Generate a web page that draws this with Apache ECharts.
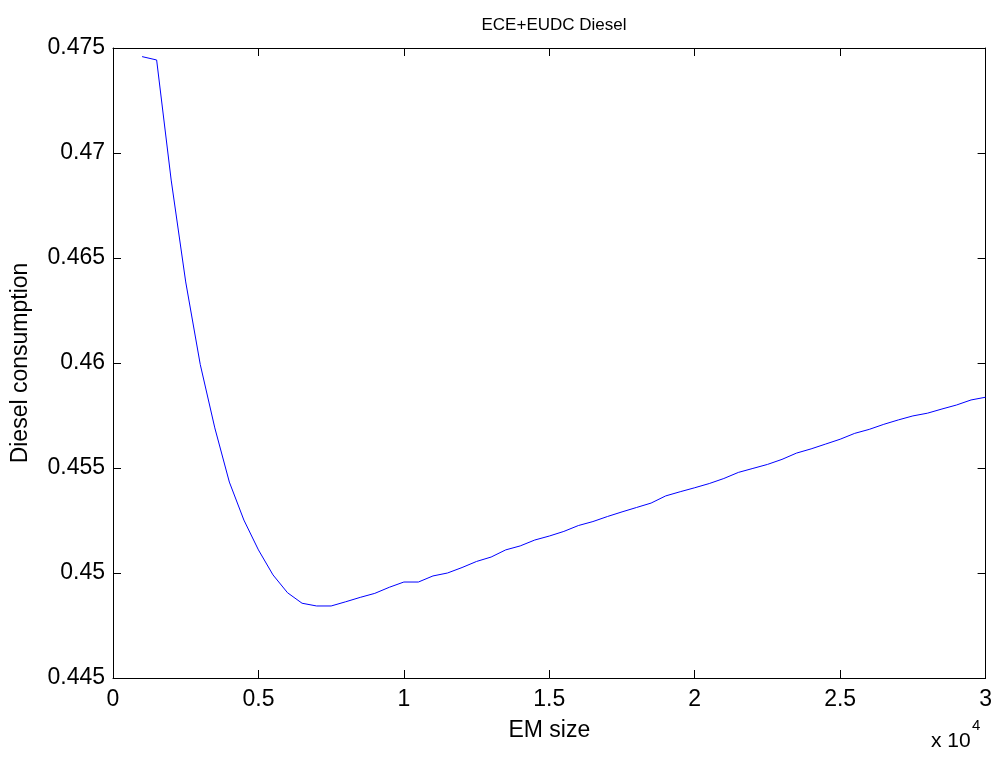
<!DOCTYPE html>
<html>
<head>
<meta charset="utf-8">
<script src="https://cdn.jsdelivr.net/npm/echarts@6/dist/echarts.min.js"></script>
<style>
  html, body { margin: 0; padding: 0; background: #fff; }
  #chart { width: 995px; height: 758px; }
</style>
</head>
<body>
<div id="chart"></div>
<script>
// EM size sweep (raw units; axis shows them scaled by 10^4)
const emSize = [
  1000, 1500, 2000, 2500, 3000, 3500, 4000, 4500, 5000, 5500,
  6000, 6500, 7000, 7500, 8000, 8500, 9000, 9500, 10000, 10500,
  11000, 11500, 12000, 12500, 13000, 13500, 14000, 14500, 15000, 15500,
  16000, 16500, 17000, 17500, 18000, 18500, 19000, 19500, 20000, 20500,
  21000, 21500, 22000, 22500, 23000, 23500, 24000, 24500, 25000, 25500,
  26000, 26500, 27000, 27500, 28000, 28500, 29000, 29500, 30000
];

// Diesel consumption over the ECE+EUDC cycle for each EM size
const dieselConsumption = [
  0.47459, 0.47443, 0.46871, 0.46386, 0.45993, 0.45691, 0.45433, 0.45252, 0.45110, 0.44991,
  0.44906, 0.44856, 0.44843, 0.44843, 0.44863, 0.44884, 0.44903, 0.44932, 0.44957, 0.44957,
  0.44986, 0.45000, 0.45026, 0.45055, 0.45076, 0.45110, 0.45129, 0.45157, 0.45176, 0.45198,
  0.45226, 0.45245, 0.45269, 0.45291, 0.45312, 0.45333, 0.45367, 0.45387, 0.45406, 0.45426,
  0.45450, 0.45479, 0.45498, 0.45517, 0.45541, 0.45571, 0.45591, 0.45614, 0.45637, 0.45665,
  0.45684, 0.45708, 0.45729, 0.45748, 0.45761, 0.45781, 0.45800, 0.45824, 0.45837
];

const FONT = 'Arial, "Liberation Sans", Helvetica, sans-serif';
const points = emSize.map((x, i) => [x, dieselConsumption[i]]);

const chart = echarts.init(document.getElementById('chart'), null, { renderer: 'canvas' });

// Box-style axes: black frame with short ticks pointing into the plot
function boxAxis(extra) {
  return Object.assign({
    type: 'value',
    axisLine: { show: true, onZero: false, lineStyle: { color: '#000', width: 1 } },
    axisTick: { show: true, inside: true, length: 8, lineStyle: { color: '#000', width: 1 } },
    splitLine: { show: false }
  }, extra);
}

chart.setOption({
  backgroundColor: '#fff',
  animation: false,
  title: {
    text: 'ECE+EUDC Diesel',
    left: 549,
    textAlign: 'center',
    top: 12,
    textStyle: { fontFamily: FONT, fontSize: 17, fontWeight: 'normal', color: '#000' }
  },
  grid: { left: 113, right: 9, top: 48, bottom: 80, containLabel: false },
  xAxis: [
    boxAxis({
      position: 'bottom',
      min: 0, max: 30000, interval: 5000,
      name: 'EM size',
      nameLocation: 'middle',
      nameGap: 41,
      nameTextStyle: { fontFamily: FONT, fontSize: 23, color: '#000' },
      axisLabel: {
        inside: false,
        margin: 10,
        fontFamily: FONT, fontSize: 23, color: '#000',
        formatter: v => String(Number((v / 10000).toFixed(2)))
      }
    }),
    boxAxis({
      position: 'top',
      min: 0, max: 30000, interval: 5000,
      axisLabel: { show: false }
    })
  ],
  yAxis: [
    boxAxis({
      position: 'left',
      min: 0.445, max: 0.475, interval: 0.005,
      name: 'Diesel consumption',
      nameLocation: 'middle',
      nameGap: 81,
      nameTextStyle: { fontFamily: FONT, fontSize: 23, color: '#000' },
      axisLabel: {
        inside: false,
        margin: 8,
        fontFamily: FONT, fontSize: 23, color: '#000',
        formatter: v => String(Number(v.toFixed(3)))
      }
    }),
    boxAxis({
      position: 'right',
      min: 0.445, max: 0.475, interval: 0.005,
      axisLabel: { show: false }
    })
  ],
  graphic: [
    {
      type: 'text', left: 931, top: 731,
      style: { text: 'x 10', font: '21px ' + FONT, fill: '#000' }
    },
    {
      type: 'text', left: 972, top: 718,
      style: { text: '4', font: '15px ' + FONT, fill: '#000' }
    }
  ],
  series: [{
    type: 'line',
    xAxisIndex: 0,
    yAxisIndex: 0,
    data: points,
    showSymbol: false,
    symbol: 'none',
    lineStyle: { color: '#0000ff', width: 1 },
    clip: true
  }]
});
</script>
</body>
</html>
